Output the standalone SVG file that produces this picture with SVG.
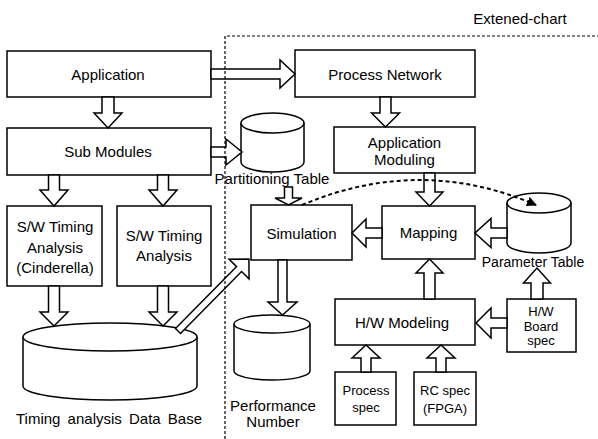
<svg xmlns="http://www.w3.org/2000/svg" width="598" height="439" viewBox="0 0 598 439">
<style>
.box{fill:#fff;stroke:#000;stroke-width:1.5}
.cyl{fill:#fff;stroke:#000;stroke-width:1.5}
.arr{fill:#fff;stroke:#000;stroke-width:1.5;stroke-linejoin:miter}
.t{font-family:"Liberation Sans",Arial,sans-serif;font-size:15px;fill:#000;text-anchor:middle}
.s{font-size:13px}
.m{font-size:14px}
.border{fill:none;stroke:#000;stroke-width:1.2;stroke-dasharray:3 2}
.curve{fill:none;stroke:#000;stroke-width:2;stroke-dasharray:4 3}
</style>
<defs>
<marker id="ah" viewBox="0 0 10 10" refX="9" refY="5" markerWidth="5" markerHeight="5" orient="auto" markerUnits="strokeWidth">
<path d="M0,0 L10,5 L0,10 z" fill="#000"/>
</marker>
</defs>
<rect width="598" height="439" fill="#fff"/>

<g id="application"><rect class="box" x="7" y="51" width="204" height="46"/><text class="t" x="108" y="80">Application</text></g>
<g id="process-network"><rect class="box" x="295" y="50" width="180" height="47"/><text class="t" x="385" y="80">Process Network</text></g>
<g id="sub-modules"><rect class="box" x="7" y="128" width="204" height="47"/><text class="t" x="108" y="157">Sub Modules</text></g>
<g id="app-moduling"><rect class="box" x="334" y="127" width="141" height="46"/><text class="t" x="404.5" y="148">Application</text><text class="t" x="404.5" y="165">Moduling</text></g>
<g id="sw-timing-cinderella"><rect class="box" x="7" y="206" width="95" height="80"/><text class="t" x="55" y="232">S/W Timing</text><text class="t" x="55" y="253">Analysis</text><text class="t" x="55" y="273">(Cinderella)</text></g>
<g id="sw-timing"><rect class="box" x="117" y="206" width="94" height="80"/><text class="t" x="164" y="241">S/W Timing</text><text class="t" x="164" y="261">Analysis</text></g>
<g id="simulation"><rect class="box" x="251" y="205" width="101" height="55"/><text class="t" x="301.5" y="239">Simulation</text></g>
<g id="mapping"><rect class="box" x="382" y="206" width="93" height="53"/><text class="t" x="428.5" y="238">Mapping</text></g>
<g id="hw-modeling"><rect class="box" x="335" y="299" width="140" height="46"/><text class="t" x="402" y="328">H/W Modeling</text></g>
<g id="hw-board-spec"><rect class="box" x="507" y="299" width="69" height="53"/><text class="t s" x="541" y="316">H/W</text><text class="t s" x="541" y="331">Board</text><text class="t s" x="541" y="345">spec</text></g>
<g id="process-spec"><rect class="box" x="335" y="372" width="61" height="53"/><text class="t s" x="366" y="395">Process</text><text class="t s" x="366" y="412">spec</text></g>
<g id="rc-spec"><rect class="box" x="414" y="372" width="62" height="53"/><text class="t s" x="445" y="395">RC spec</text><text class="t s" x="445" y="413">(FPGA)</text></g>

<g id="partitioning-table">
<path class="cyl" d="M241,123 V162 A31.5,10 0 0 0 304,162 V123"/>
<ellipse class="cyl" cx="272.5" cy="123" rx="31.5" ry="10"/>
<text class="t" x="272" y="184">Partitioning Table</text>
</g>
<g id="parameter-table">
<path class="cyl" d="M507,203 V243 A32,10 0 0 0 571,243 V203"/>
<ellipse class="cyl" cx="539" cy="203" rx="32" ry="10"/>
<text class="t m" x="533" y="267">Parameter Table</text>
</g>
<g id="timing-db">
<path class="cyl" d="M23,337 V386 A87,14 0 0 0 197,386 V337"/>
<ellipse class="cyl" cx="110" cy="337" rx="87" ry="14"/>
<text class="t" x="109" y="424" word-spacing="3">Timing analysis Data Base</text>
</g>
<g id="performance-number">
<path class="cyl" d="M234,324 V371 A38,9 0 0 0 310,371 V324"/>
<ellipse class="cyl" cx="272" cy="324" rx="38" ry="9"/>
<text class="t" x="273" y="411">Performance</text>
<text class="t" x="273" y="427">Number</text>
</g>

<g id="connectors">
<polygon class="arr" points="102,97 102,113 94,113 108,128 122,113 114,113 114,97"/>
<polygon class="arr" points="211,69 280,69 280,60 295,74 280,88 280,79 211,79"/>
<polygon class="arr" points="380,97 380,113 371.5,113 385.5,127 399.5,113 391,113 391,97"/>
<polygon class="arr" points="211,147 226,147 226,139 242,152 226,165 226,157 211,157"/>
<polygon class="arr" points="48.5,175 48.5,190 40,190 54,206 68,190 59.5,190 59.5,175"/>
<polygon class="arr" points="157.5,175 157.5,190 149,190 163,206 177,190 168.5,190 168.5,175"/>
<polygon class="arr" points="48.5,286 48.5,312 40,312 54,326 68,312 59.5,312 59.5,286"/>
<polygon class="arr" points="157.5,286 157.5,312 149,312 163,326 177,312 168.5,312 168.5,286"/>
<polygon class="arr" points="284.5,187 284.5,198 275,198 288.5,205 302,198 292.5,198 292.5,187"/>
<polygon class="arr" points="424,173 424,192 416,192 429.5,206 443,192 435,192 435,173"/>
<polygon class="arr" points="382,228 366,228 366,219 352,233 366,247 366,238 382,238"/>
<polygon class="arr" points="507,228 491,228 491,218.5 475,233 491,247.5 491,238 507,238"/>
<polygon class="arr" points="278,260 278,302 268,302 282.5,315 297,302 287,302 287,260"/>
<polygon class="arr" points="424,299 424,273 416,273 429.5,259 443,273 435,273 435,299"/>
<polygon class="arr" points="531,299 531,283 523.5,283 537,268 550.5,283 543,283 543,299"/>
<polygon class="arr" points="507,318 491,318 491,308 476,323 491,338 491,328 507,328"/>
<polygon class="arr" points="361,372 361,358 352,358 366,345 380,358 371,358 371,372"/>
<polygon class="arr" points="436,372 436,358 427,358 441,345 455,358 446,358 446,372"/>
<polygon class="arr" transform="translate(178,331) rotate(-45.4)" points="0,-3.5 87,-3.5 87,-14 101,0 87,14 87,3.5 0,3.5"/>
<path class="curve" d="M302,205 Q420,155 536,205" marker-end="url(#ah)"/>
</g>

<path class="border" d="M225,439 V36 H598"/>
<text class="t" x="520" y="24">Extened-chart</text>
</svg>
